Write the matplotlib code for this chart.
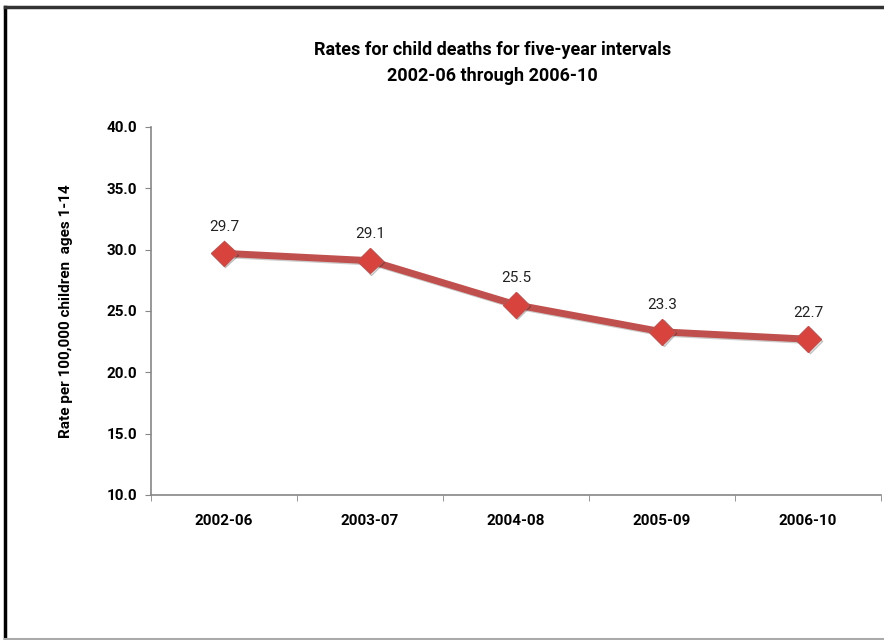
import matplotlib.pyplot as plt
import matplotlib.patheffects as pe
from matplotlib.lines import Line2D

periods = ["2002-06", "2003-07", "2004-08", "2005-09", "2006-10"]
rates = [29.7, 29.1, 25.5, 23.3, 22.7]
yticks = [10.0, 15.0, 20.0, 25.0, 30.0, 35.0, 40.0]

plt.rcParams["font.family"] = ["Roboto", "DejaVu Sans"]

fig = plt.figure(figsize=(8.84, 6.4), dpi=100)
ax = fig.add_axes([0.1708, 0.2266, 0.826, 0.575])

x = range(len(periods))
ax.plot(x, rates, color="#c0504d", linewidth=5, solid_capstyle="round",
        path_effects=[pe.SimpleLineShadow(offset=(1, -1), alpha=0.2), pe.Normal()])
ax.plot(x, rates, linestyle="none", marker="D", markersize=13,
        markerfacecolor="#d9433d", markeredgecolor="#c0504d", markeredgewidth=1,
        path_effects=[pe.SimpleLineShadow(offset=(1, -1), alpha=0.25), pe.Normal()])

for i, v in enumerate(rates):
    ax.annotate(f"{v:.1f}", (i, v), xytext=(0, 14), textcoords="offset points",
                ha="center", va="bottom", fontsize=11, color="#222222")

ax.set_xlim(-0.5, len(periods) - 0.5)
ax.set_ylim(10, 40)
ax.set_yticks(yticks)
ax.set_yticklabels([f"{t:.1f}" for t in yticks], fontsize=11, fontweight="bold")
ax.set_xticks(x)
ax.set_xticklabels(periods, fontsize=11, fontweight="bold")
ax.set_xticks([i - 0.5 for i in range(len(periods) + 1)], minor=True)
ax.tick_params(axis="x", which="major", length=0, pad=14)
ax.tick_params(axis="x", which="minor", length=4, color="#868686")
ax.tick_params(axis="y", length=4, color="#868686", pad=6)

for s in ["top", "right"]:
    ax.spines[s].set_visible(False)
for s in ["left", "bottom"]:
    ax.spines[s].set_color("#868686")
    ax.spines[s].set_linewidth(1.2)

ax.set_ylabel("Rate per 100,000 children  ages 1-14", fontsize=11, fontweight="bold", labelpad=24)

fig.text(0.557, 0.902, "Rates for child deaths for five-year intervals\n2002-06 through 2006-10",
         ha="center", va="center", fontsize=13, fontweight="semibold", linespacing=1.6)

# outer chart frame
fig.add_artist(Line2D([5 / 884, 5 / 884], [0, 633 / 640], color="black", lw=2.5, transform=fig.transFigure))
fig.add_artist(Line2D([5 / 884, 1], [633 / 640, 633 / 640], color="#333333", lw=2.5, transform=fig.transFigure))
fig.add_artist(Line2D([5 / 884, 1], [1.5 / 640, 1.5 / 640], color="#aaaaaa", lw=1.5, transform=fig.transFigure))

fig.savefig("out.png", dpi=100)
